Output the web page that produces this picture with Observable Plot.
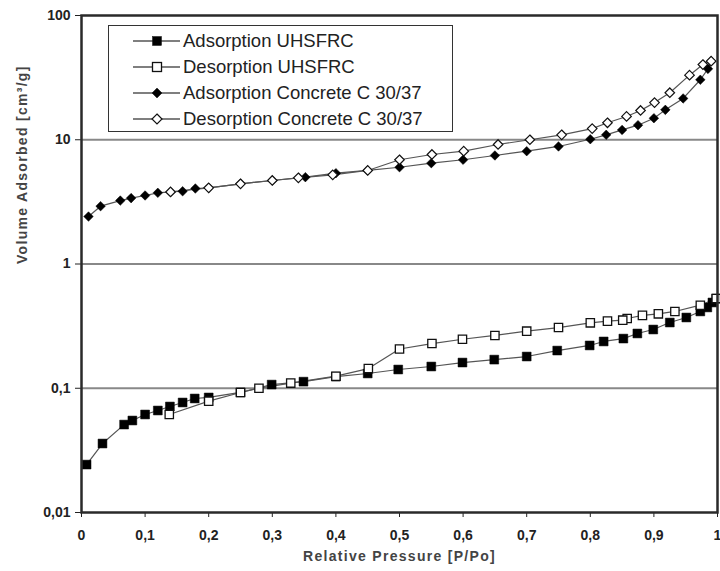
<!DOCTYPE html>
<html><head><meta charset="utf-8">
<script src="https://cdn.jsdelivr.net/npm/d3@7"></script>
<script src="https://cdn.jsdelivr.net/npm/@observablehq/plot@0.6"></script>
<style>
body{margin:0;background:#fff;}
#wrap{position:relative;width:720px;height:571px;}
#legend{position:absolute;left:108px;top:25px;width:343px;height:105px;border:1.5px solid #333;background:#fff;
  font-family:"Liberation Sans",Arial,sans-serif;font-size:18.5px;color:#222;}
.row{position:absolute;left:24px;height:24px;display:flex;align-items:center;white-space:nowrap;}
.row svg{margin-right:3px;}
</style></head><body><div id="wrap"><div id="legend"></div></div>
<script>
// ---- data ----
const seriesNames = ["Adsorption UHSFRC","Desorption UHSFRC","Adsorption Concrete C 30/37","Desorption Concrete C 30/37"];

const adsUhsP = [0.008,0.033,0.067,0.080,0.10,0.12,0.139,0.159,0.178,0.200,0.25,0.299,0.349,0.40,0.45,0.498,0.55,0.599,0.649,0.70,0.748,0.799,0.821,0.852,0.874,0.899,0.925,0.951,0.973,0.984,0.992,0.998];
const adsUhsV = [0.0243,0.0359,0.051,0.055,0.0615,0.0662,0.0713,0.0768,0.0827,0.0843,0.0925,0.107,0.113,0.124,0.1315,0.1415,0.1496,0.161,0.170,0.180,0.201,0.221,0.238,0.251,0.276,0.297,0.338,0.371,0.415,0.447,0.49,0.527];

const desUhsP = [0.998,0.973,0.933,0.907,0.882,0.858,0.851,0.827,0.80,0.75,0.70,0.65,0.599,0.551,0.50,0.451,0.40,0.329,0.279,0.25,0.20,0.138];
const desUhsV = [0.527,0.466,0.415,0.397,0.386,0.364,0.353,0.347,0.336,0.308,0.288,0.266,0.248,0.229,0.207,0.144,0.125,0.110,0.100,0.0925,0.0787,0.0615];

const adsConP = [0.011,0.030,0.061,0.078,0.10,0.12,0.14,0.159,0.179,0.20,0.25,0.30,0.352,0.40,0.45,0.50,0.55,0.60,0.65,0.70,0.75,0.80,0.825,0.85,0.875,0.90,0.918,0.946,0.973,0.985,0.99];
const adsConV = [2.41,2.92,3.24,3.39,3.56,3.74,3.80,3.85,4.05,4.10,4.42,4.70,5.0,5.38,5.66,6.01,6.48,6.90,7.47,8.09,8.83,10.1,10.96,12.0,13.1,14.9,17.4,21.5,30.4,37.2,42.9];

const desConP = [0.99,0.977,0.956,0.925,0.901,0.879,0.857,0.827,0.803,0.755,0.705,0.655,0.601,0.551,0.50,0.45,0.395,0.341,0.30,0.25,0.20,0.14];
const desConV = [42.9,40.3,33.1,23.9,19.9,17.2,15.4,13.7,12.3,10.96,10.0,9.16,8.09,7.61,6.90,5.66,5.22,4.94,4.70,4.42,4.10,3.80];

const xTicks = [0,0.1,0.2,0.3,0.4,0.5,0.6,0.7,0.8,0.9,1];
const xTickLabels = ["0","0,1","0,2","0,3","0,4","0,5","0,6","0,7","0,8","0,9","1"];
const yTicks = [0.01,0.1,1,10,100];
const yTickLabels = ["0,01","0,1","1","10","100"];
const gridValues = [0.1,1,10];
const xLabel = "Relative Pressure [P/Po]";
const yLabel = "Volume Adsorbed [cm³/g]";

// ---- build ----
const rows = (P, V) => P.map((p, i) => ({p, v: V[i]}));
const adsU = rows(adsUhsP, adsUhsV), desU = rows(desUhsP, desUhsV);
const adsC = rows(adsConP, adsConV), desC = rows(desConP, desConV);
const xMap = new Map(xTicks.map((t, i) => [t, xTickLabels[i]]));
const yMap = new Map(yTicks.map((t, i) => [t, yTickLabels[i]]));

const lineStyle = {x: "p", y: "v", stroke: "#555", strokeWidth: 1.2};
const chart = Plot.plot({
  width: 720, height: 571,
  marginLeft: 81, marginRight: 3, marginTop: 15, marginBottom: 59,
  style: {fontFamily: "'Liberation Sans', Arial, sans-serif", fontSize: "14px", fontWeight: "bold", color: "#222", background: "#fff"},
  x: {domain: [0, 1], ticks: xTicks, tickFormat: d => xMap.get(d), tickSize: 5, tickPadding: 13, label: null},
  y: {type: "log", domain: [0.01, 100], ticks: yTicks, tickFormat: d => yMap.get(d), tickSize: 6, tickPadding: 5, label: null},
  marks: [
    Plot.ruleY(gridValues, {stroke: "#888", strokeWidth: 2}),
    Plot.line(adsU, lineStyle),
    Plot.line(desU, lineStyle),
    Plot.line(adsC, lineStyle),
    Plot.line(desC, lineStyle),
    Plot.dot(adsU, {x: "p", y: "v", symbol: "square", r: 5, fill: "#000", stroke: "#000", strokeWidth: 0.5}),
    Plot.dot(desU, {x: "p", y: "v", symbol: "square", r: 4.7, fill: "#fff", stroke: "#111", strokeWidth: 1.3}),
    Plot.dot(adsC, {x: "p", y: "v", symbol: "diamond2", r: 4.3, fill: "#000", stroke: "#000", strokeWidth: 0.5}),
    Plot.dot(desC, {x: "p", y: "v", symbol: "diamond2", r: 4.3, fill: "#fff", stroke: "#111", strokeWidth: 1.2}),
    Plot.frame({stroke: "#2a2a2a", strokeWidth: 2.5}),
    Plot.text([xLabel], {frameAnchor: "bottom", dy: 48, fill: "#444", fontSize: 14, fontWeight: "bold", style: "letter-spacing:1.4px"}),
    Plot.text([yLabel], {frameAnchor: "left", dx: -59, rotate: -90, fill: "#444", fontSize: 14, fontWeight: "bold"})
  ]
});
// letter-spacing for the axis titles
chart.querySelectorAll("text").forEach(t => {
  if (t.textContent === xLabel || t.textContent === yLabel) t.setAttribute("letter-spacing", "1.3");
});
document.getElementById("wrap").prepend(chart);
chart.style.position = "absolute"; chart.style.left = "0"; chart.style.top = "0";

// ---- legend ----
const markerSvg = (k) => {
  const filled = k % 2 === 0, sq = k < 2;
  const shape = sq
    ? `<rect x="19.5" y="5.5" width="9" height="9" fill="${filled ? "#000" : "#fff"}" stroke="#111" stroke-width="${filled ? 0.5 : 1.3}"/>`
    : `<path d="M24,5 L29,10 L24,15 L19,10 Z" fill="${filled ? "#000" : "#fff"}" stroke="#111" stroke-width="${filled ? 0.5 : 1.2}"/>`;
  return `<svg width="47" height="20"><line x1="0" y1="10" x2="47" y2="10" stroke="#555" stroke-width="1.6"/>${shape}</svg>`;
};
const legend = document.getElementById("legend");
seriesNames.forEach((name, k) => {
  const r = document.createElement("div");
  r.className = "row";
  r.style.top = (3 + k * 26) + "px";
  r.innerHTML = markerSvg(k) + `<span>${name}</span>`;
  legend.appendChild(r);
});
</script>
</body></html>
